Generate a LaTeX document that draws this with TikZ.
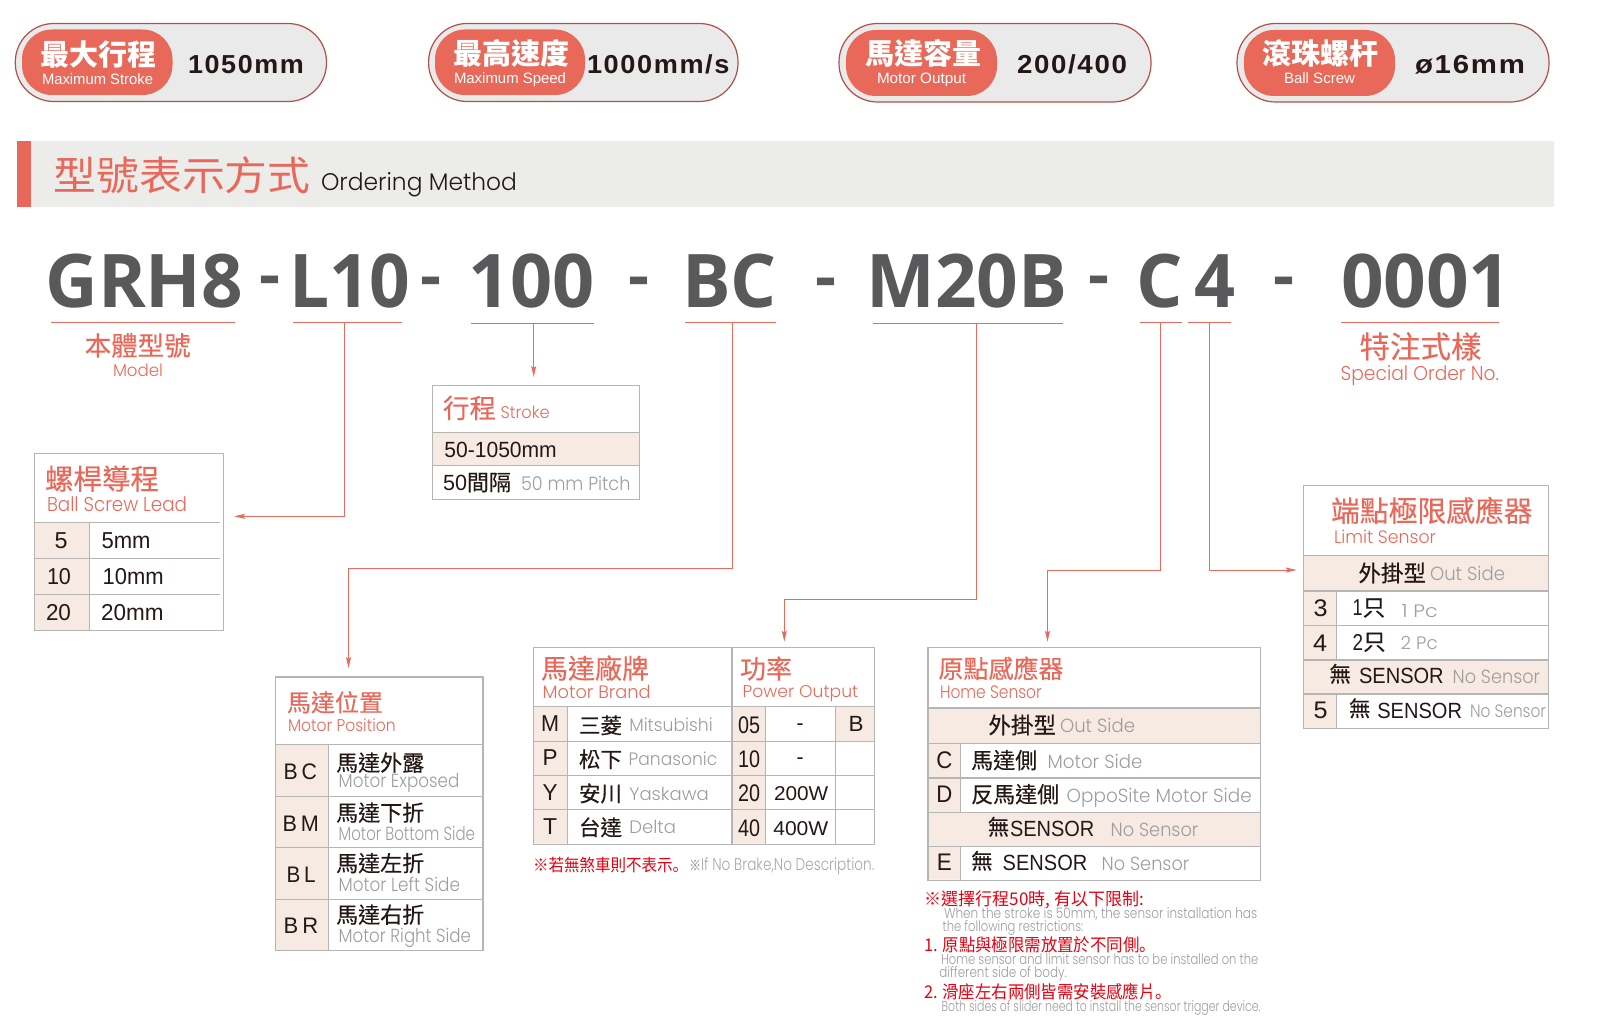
\documentclass[tikz,border=0pt]{standalone}
\usepackage{fontspec}
\usepackage{graphicx}
\usetikzlibrary{arrows.meta}
\newfontfamily\fLt{Poppins}[UprightFont=* Light]
\newfontfamily\fAr{Liberation Sans}
\newfontfamily\fArS{Liberation Sans}[LetterSpace=6]
\newfontfamily\fZh{Noto Sans CJK TC}
\newfontfamily\fZm{Noto Sans CJK TC}[FakeBold=0.35]
\newfontfamily\fSc{Noto Sans CJK SC}
\newfontfamily\fOs{Open Sans}
\definecolor{sal}{HTML}{E8695A}
\definecolor{redn}{HTML}{E60012}
\definecolor{ink}{HTML}{231815}
\definecolor{gry}{HTML}{9C9D9D}
\definecolor{lgry}{HTML}{A8A8A8}
\definecolor{cream}{HTML}{F7EAE2}
\definecolor{rulec}{HTML}{B5B5B6}
\definecolor{bandc}{HTML}{ECEDEB}
\definecolor{connc}{HTML}{EC6A5C}
\definecolor{hdg}{HTML}{59595B}
\definecolor{pillc}{HTML}{E9EAE9}
\definecolor{pilld}{HTML}{B0504C}
\newcommand\fs[1]{\fontsize{#1}{#1}\selectfont}
\newcommand\EL[3]{\resizebox{#1pt}{\height}{\fLt\fs{#2}#3}}
\newcommand\AR[3]{\resizebox{#1pt}{\height}{\fAr\fs{#2}#3}}
\newcommand\ARB[3]{\resizebox{#1pt}{\height}{\fArS\bfseries\fs{#2}#3}}
\newcommand\OS[3]{\resizebox{#1pt}{\height}{\fOs\bfseries\fs{#2}#3}}
\newcommand\ZH[2]{{\fZm\fs{#1}#2}}
\newcommand\ZB[2]{{\fZh\bfseries\fs{#1}#2}}
\newcommand\ZF[3]{\resizebox{#1pt}{\height}{\fZh\fs{#2}#3}}
\newcommand\tx[5][ink]{\node[lab,text=#1] (#2) at (#3,#4) {#5};}
\newcommand\txc[5][ink]{\node[mid,text=#1] (#2) at (#3,#4) {#5};}
\tikzset{
  lab/.style={inner sep=0pt,outer sep=0pt,anchor=base west},
  mid/.style={inner sep=0pt,outer sep=0pt,anchor=base},
  frameb/.style={draw=rulec,line width=1.2pt,inner sep=0pt,anchor=north west},
  rl/.style={draw=rulec,line width=1.1pt},
  ul/.style={draw=connc,line width=1pt},
  conn/.style={draw=connc,line width=1pt,-{Stealth[length=11pt,width=5pt,inset=2pt]}},
  pillout/.style={draw=pilld,line width=1.2pt,fill=pillc,rounded corners=38.5pt},
  pillin/.style={fill=sal,rounded corners=30pt}
}
\begin{document}
\begin{tikzpicture}[x=1pt,y=-1pt]
\useasboundingbox (0,0) rectangle (1602,1030);
% pills
\draw[pillout] (15.3,23.5) rectangle (326.5,101.5);
\fill[pillin] (22,29.5) rectangle (172.5,95);
\draw[pillout] (428.6,23.5) rectangle (738,101.5);
\fill[pillin] (435,29.5) rectangle (585,95);
\draw[pillout] (839,23.5) rectangle (1151,102);
\fill[pillin] (846,30) rectangle (997,96);
\draw[pillout] (1237,23.5) rectangle (1549,102);
\fill[pillin] (1244,30) rectangle (1395,96);
\tx[white]{p1a}{40}{65.5}{\ZB{29}{最大行程}}
\tx[white]{p1b}{42}{84.5}{\AR{111}{15}{Maximum Stroke}}
\tx{p1c}{188}{73.5}{\ARB{116}{26}{1050mm}}
\tx[white]{p2a}{453}{64.5}{\ZB{29}{最高速度}}
\tx[white]{p2b}{454}{84}{\AR{112}{15}{Maximum Speed}}
\tx{p2c}{587}{73.5}{\ARB{142.5}{26}{1000mm/s}}
\tx[white]{p3a}{865}{64.5}{\ZB{29}{馬達容量}}
\tx[white]{p3b}{877}{84}{\AR{89}{15}{Motor Output}}
\tx{p3c}{1017}{73.5}{\ARB{110}{26}{200/400}}
\tx[white]{p4a}{1262}{64.5}{\ZB{29}{滾珠螺杆}}
\tx[white]{p4b}{1284}{84}{\AR{71}{15}{Ball Screw}}
\tx{p4c}{1415}{73.5}{\ARB{110}{26}{ø16mm}}
% heading band
\fill[bandc] (31,141) rectangle (1554,206.7);
\fill[sal] (17,141) rectangle (31,206.7);
\tx[sal]{hz}{53.5}{190.5}{\ZF{257}{40}{型號表示方式}}
\tx{he}{321}{190}{\EL{196}{24}{Ordering Method}}
% model code
\tx[hdg]{g1}{45.4}{307}{\OS{197.7}{74}{GRH8}}
\tx[hdg]{g2}{289}{307}{\OS{121.4}{74}{L10}}
\tx[hdg]{g3}{468}{307}{\OS{126.3}{74}{100}}
\tx[hdg]{g4}{682}{307}{\OS{94.7}{74}{BC}}
\tx[hdg]{g5}{866.6}{307}{\OS{200.8}{74}{M20B}}
\tx[hdg]{g6}{1136}{307}{\OS{46.5}{74}{C}}
\tx[hdg]{g7}{1194}{307}{\OS{41}{74}{4}}
\tx[hdg]{g8}{1341}{307.5}{\OS{170.5}{74}{0001}}
\txc[hdg]{d1}{269.8}{296}{\OS{21}{62}{-}}
\txc[hdg]{d2}{431}{297}{\OS{21}{62}{-}}
\txc[hdg]{d3}{638.5}{297}{\OS{21}{62}{-}}
\txc[hdg]{d4}{825.5}{298}{\OS{21}{62}{-}}
\txc[hdg]{d5}{1099}{296}{\OS{21}{62}{-}}
\txc[hdg]{d6}{1283.5}{297}{\OS{21}{62}{-}}
% underlines
\coordinate (a1) at (51,322.3); \coordinate (b1) at (234.7,322.3);
\coordinate (a2) at (293,322.3); \coordinate (b2) at (402,322.3);
\coordinate (a3) at (471,323); \coordinate (b3) at (594,323);
\coordinate (a4) at (685,322.3); \coordinate (b4) at (775.5,322.3);
\coordinate (a5) at (873,323); \coordinate (b5) at (1063.4,323);
\coordinate (a6) at (1140,322.8); \coordinate (b6) at (1182,322.8);
\coordinate (a7) at (1188,322.8); \coordinate (b7) at (1231,322.8);
\coordinate (a8) at (1341,322.3); \coordinate (b8) at (1499,322.3);
\foreach \i in {1,...,8} {\draw[ul] (a\i) -- (b\i);}
% drop points
\coordinate (s2) at (344.5,322.3); \coordinate (t2) at (234,516.3);
\coordinate (s3) at (533.7,323); \coordinate (t3) at (533.7,377);
\coordinate (s4) at (732.4,322.3); \coordinate (k4) at (348.5,568.4); \coordinate (t4) at (348.5,668);
\coordinate (s5) at (976.5,323); \coordinate (k5) at (784.3,599.7); \coordinate (t5) at (784.3,641.7);
\coordinate (s6) at (1160,322.8); \coordinate (k6) at (1047.5,570); \coordinate (t6) at (1047.5,641.7);
\coordinate (s7) at (1209,322.8); \coordinate (t7) at (1296.7,570);
\draw[conn] (s2) |- (t2);
\draw[conn] (s3) -- (t3);
\draw[conn] (s4) |- (k4) -- (t4);
\draw[conn] (s5) |- (k5) -- (t5);
\draw[conn] (s6) |- (k6) -- (t6);
\draw[conn] (s7) |- (t7);
% labels under code
\tx[sal]{m1}{84.7}{355.5}{\ZH{26.5}{本體型號}}
\tx[sal]{m2}{113}{376.7}{\EL{50}{17}{Model}}
\tx[sal]{o1}{1359.5}{358}{\ZH{30.5}{特注式樣}}
\tx[sal]{o2}{1340.7}{380}{\EL{158.3}{20}{Special Order No.}}
% ball screw lead
\fill[cream] (34,522.5) rectangle (89.5,630);
\node[frameb,minimum width=189pt,minimum height=176.4pt] (bl) at (33.7,453.2) {};
\draw[rl] (34,522.5) -- (220,522.5) (34,558.5) -- (220,558.5) (34,594.5) -- (220,594.5) (89.5,522.5) -- (89.5,630);
\tx[sal]{bl1}{45}{489.5}{\ZH{28.5}{螺桿導程}}
\tx[sal]{bl2}{47}{511}{\EL{140}{20}{Ball Screw Lead}}
\txc{bl3}{61}{548.5}{\AR{13}{23}{5}}
\tx{bl4}{101.6}{548.5}{\AR{49}{23}{5mm}}
\txc{bl5}{59}{584}{\AR{24}{23}{10}}
\tx{bl6}{102.6}{584}{\AR{61}{23}{10mm}}
\txc{bl7}{58.5}{620}{\AR{25}{23}{20}}
\tx{bl8}{101}{620}{\AR{62.5}{23}{20mm}}
% stroke
\fill[cream] (432,432.5) rectangle (639,465.8);
\node[frameb,minimum width=207pt,minimum height=113.7pt] (st) at (432,385) {};
\draw[rl] (432,432.5) -- (639,432.5) (432,465.8) -- (639,465.8);
\tx[sal]{st1}{443}{418}{\ZH{26.5}{行程}}
\tx[sal]{st2}{500.6}{418}{\EL{49}{17}{Stroke}}
\tx{st3}{444.4}{457.8}{\AR{112.4}{22}{50-1050mm}}
\tx{st4}{443}{490.5}{\AR{24}{22}{50}\ZH{22}{間隔}}
\tx[gry]{st5}{521}{490.5}{\EL{109.4}{19}{50 mm Pitch}}
% motor position
\fill[cream] (275,744.8) rectangle (328.7,949.8);
\node[frameb,minimum width=207.3pt,minimum height=273.5pt] (mp) at (275,676.3) {};
\draw[rl] (275,744.8) -- (482.3,744.8) (275,796.5) -- (482.3,796.5) (275,847.8) -- (482.3,847.8) (275,899.4) -- (482.3,899.4) (328.7,744.8) -- (328.7,949.8);
\tx[sal]{mp1}{287}{711.5}{\ZH{24}{馬達位置}}
\tx[sal]{mp2}{288}{731}{\EL{107.7}{17}{Motor Position}}
\tx{mp3}{283.7}{779.6}{\AR{33.3}{22.5}{B\kern4pt C}}
\tx{mp4}{282.7}{831}{\AR{36.3}{22.5}{B\kern4pt M}}
\tx{mp5}{286.7}{882.2}{\AR{29}{22.5}{B\kern4pt L}}
\tx{mp6}{283.7}{933.5}{\AR{34.5}{22.5}{B\kern4pt R}}
\tx{mp7}{336.2}{771}{\ZH{22}{馬達外露}}
\tx{mp8}{336.2}{821}{\ZH{22}{馬達下折}}
\tx{mp9}{336.2}{871.5}{\ZH{22}{馬達左折}}
\tx{mp10}{336.2}{923}{\ZH{22}{馬達右折}}
\tx[gry]{mp11}{338.7}{787.7}{\EL{120.6}{19}{Motor Exposed}}
\tx[gry]{mp12}{338.7}{840}{\EL{136.3}{19}{Motor Bottom Side}}
\tx[gry]{mp13}{338.7}{891.4}{\EL{121.3}{19}{Motor Left Side}}
\tx[gry]{mp14}{338.7}{942.3}{\EL{132.3}{19}{Motor Right Side}}
% motor brand / power
\fill[cream] (533,706.7) rectangle (567.7,843.6) (732,706.7) rectangle (765.7,843.6) (835.7,706.7) rectangle (873.8,741.7);
\node[frameb,minimum width=340.8pt,minimum height=196.6pt] (mb) at (533,647) {};
\draw[rl] (533,706.7) -- (873.8,706.7) (533,741.7) -- (873.8,741.7) (533,775.7) -- (873.8,775.7) (533,809.7) -- (873.8,809.7)
 (567.7,706.7) -- (567.7,843.6) (732,647) -- (732,843.6) (765.7,706.7) -- (765.7,843.6) (835.7,706.7) -- (835.7,843.6);
\tx[sal]{mb1}{541}{678.5}{\ZH{27}{馬達廠牌}}
\tx[sal]{mb2}{542.7}{698}{\EL{108}{18}{Motor Brand}}
\tx[sal]{mb3}{740}{678.5}{\ZH{26}{功率}}
\tx[sal]{mb4}{742.7}{697}{\EL{115.6}{17}{Power Output}}
\txc{mb5}{550}{731.7}{\AR{18}{23}{M}}
\txc{mb6}{550}{765}{\AR{15}{23}{P}}
\txc{mb7}{550}{800}{\AR{15}{23}{Y}}
\txc{mb8}{550}{834}{\AR{14}{23}{T}}
\tx{mb9}{579}{733.5}{\ZH{21.5}{三菱}}
\tx{mb10}{579}{767.5}{\ZH{21.5}{松下}}
\tx{mb11}{579}{801.5}{\ZH{21.5}{安川}}
\tx{mb12}{579}{835.5}{\ZH{21.5}{台達}}
\tx[gry]{mb13}{629.3}{731.7}{\EL{83.4}{18}{Mitsubishi}}
\tx[gry]{mb14}{628.7}{765}{\EL{88.6}{18}{Panasonic}}
\tx[gry]{mb15}{629.3}{800}{\EL{79.4}{18}{Yaskawa}}
\tx[gry]{mb16}{629.3}{833}{\EL{46.7}{18}{Delta}}
\txc{mb17}{749}{733.3}{\AR{22}{24}{05}}
\txc{mb18}{749}{767.7}{\AR{22}{24}{10}}
\txc{mb19}{749}{801.7}{\AR{22}{24}{20}}
\txc{mb20}{749}{836}{\AR{22}{24}{40}}
\txc{mb21}{800}{730.4}{\AR{7}{22}{-}}
\txc{mb22}{800}{764.7}{\AR{7}{22}{-}}
\tx{mb23}{774}{800}{\AR{54.3}{20}{200W}}
\tx{mb24}{773.3}{835}{\AR{55}{20}{400W}}
\txc{mb25}{856}{731.7}{\AR{15}{22}{B}}
\tx[redn]{mb26}{533}{871}{\ZF{155}{17}{※若無煞車則不表示{\fSc 。}}}
\tx[lgry]{mb27}{689}{870.7}{\resizebox{185.3pt}{\height}{\ZH{15}{※}\fLt\fs{17}If No Brake,No Description.}}
% home sensor
\fill[cream] (927.3,708) rectangle (1260.2,743.3) (927.3,812.3) rectangle (1260.2,846.7) (927.3,743.3) rectangle (960.7,812.3) (927.3,846.7) rectangle (960.7,879.7);
\node[frameb,minimum width=332.9pt,minimum height=232.7pt] (hs) at (927.3,647) {};
\draw[rl] (927.3,708) -- (1260.2,708) (927.3,743.3) -- (1260.2,743.3) (927.3,778) -- (1260.2,778) (927.3,812.3) -- (1260.2,812.3) (927.3,846.7) -- (1260.2,846.7)
 (960.7,743.3) -- (960.7,812.3) (960.7,846.7) -- (960.7,879.7);
\tx[sal]{hs1}{938.5}{678}{\ZH{25}{原點感應器}}
\tx[sal]{hs2}{940}{698}{\EL{101.7}{18}{Home Sensor}}
\tx{hs3}{988.5}{733.5}{\ZH{22.5}{外掛型}}
\tx[gry]{hs4}{1060}{732}{\EL{75}{19}{Out Side}}
\txc{hs5}{944.3}{768.3}{\AR{16}{24}{C}}
\tx{hs6}{971.2}{768.5}{\ZH{22}{馬達側}}
\tx[gry]{hs7}{1047.7}{768}{\EL{94.6}{19}{Motor Side}}
\txc{hs8}{944.3}{802.7}{\AR{16}{24}{D}}
\tx{hs9}{971.2}{802.5}{\ZH{22}{反馬達側}}
\tx[gry]{hs10}{1066.7}{802}{\EL{185}{19}{OppoSite Motor Side}}
\tx{hs11}{987.8}{835}{\ZH{21.5}{無}}
\tx{hs12}{1010}{836}{\AR{84.3}{22}{SENSOR}}
\tx[gry]{hs13}{1110.7}{836}{\EL{87.6}{19}{No Sensor}}
\txc{hs14}{944.3}{870}{\AR{15}{24}{E}}
\tx{hs15}{971.2}{869}{\ZH{21.5}{無}}
\tx{hs16}{1002.7}{870}{\AR{84.6}{22}{SENSOR}}
\tx[gry]{hs17}{1101.7}{870}{\EL{87.6}{19}{No Sensor}}
% notes
\tx[redn]{n1}{924.5}{905}{\ZF{219.5}{17.5}{※選擇行程50時, 有以下限制:}}
\tx[gry]{n2}{944}{918.3}{\EL{313.3}{14.5}{When the stroke is 50mm, the sensor installation has}}
\tx[gry]{n3}{942.7}{931.7}{\EL{140.6}{14.5}{the following restrictions:}}
\tx[redn]{n4}{924}{951}{\ZF{232}{17.5}{1. 原點與極限需放置於不同側{\fSc 。}}}
\tx[gry]{n5}{941}{964}{\EL{317.3}{14.5}{Home sensor and limit sensor has to be installed on the}}
\tx[gry]{n6}{939.3}{977.3}{\EL{127.4}{14.5}{different side of body.}}
\tx[redn]{n7}{924}{998}{\ZF{248}{17.5}{2. 滑座左右兩側皆需安裝感應片{\fSc 。}}}
\tx[gry]{n8}{941.7}{1011.7}{\EL{319}{14.5}{Both sides of slider need to install the sensor trigger device.}}
% limit sensor
\fill[cream] (1303.3,555.7) rectangle (1548,591) (1303.3,660) rectangle (1548,694) (1303.3,591) rectangle (1336.3,660) (1303.3,694) rectangle (1336.3,727.8);
\node[frameb,minimum width=244.7pt,minimum height=243.3pt] (ls) at (1303,484.5) {};
\draw[rl] (1303.3,555.7) -- (1548,555.7) (1303.3,591) -- (1548,591) (1303.3,625.3) -- (1548,625.3) (1303.3,660) -- (1548,660) (1303.3,694) -- (1548,694)
 (1336.3,591) -- (1336.3,660) (1336.3,694) -- (1336.3,727.8);
\tx[sal]{ls1}{1331}{521.5}{\ZH{28.8}{端點極限感應器}}
\tx[sal]{ls2}{1334}{543.3}{\EL{102}{18}{Limit Sensor}}
\tx{ls3}{1358.5}{581.5}{\ZH{22.5}{外掛型}}
\tx[gry]{ls4}{1430}{580.5}{\EL{75}{19}{Out Side}}
\txc{ls5}{1320.5}{616.7}{\AR{14}{24}{3}}
\tx{ls6}{1352.7}{615.7}{\AR{10}{23}{1}\ZH{22.5}{只}}
\tx[gry]{ls7}{1401.7}{617.7}{\EL{36}{18}{1 Pc}}
\txc{ls8}{1320}{651}{\AR{14}{24}{4}}
\tx{ls9}{1352.7}{650}{\AR{10.5}{23}{2}\ZH{22.5}{只}}
\tx[gry]{ls10}{1400.7}{649}{\EL{37}{18}{2 Pc}}
\tx{ls11}{1329.5}{682}{\ZH{21.5}{無}}
\tx{ls12}{1359}{683.8}{\AR{84.7}{22}{SENSOR}}
\tx[gry]{ls13}{1452.7}{683.8}{\EL{87.3}{19}{No Sensor}}
\txc{ls14}{1320.5}{718}{\AR{14}{24}{5}}
\tx{ls15}{1349}{716.5}{\ZH{21.5}{無}}
\tx{ls16}{1377.3}{718}{\AR{84.7}{22}{SENSOR}}
\tx[gry]{ls17}{1470}{717}{\EL{76}{18}{No Sensor}}
\end{tikzpicture}
\end{document}
